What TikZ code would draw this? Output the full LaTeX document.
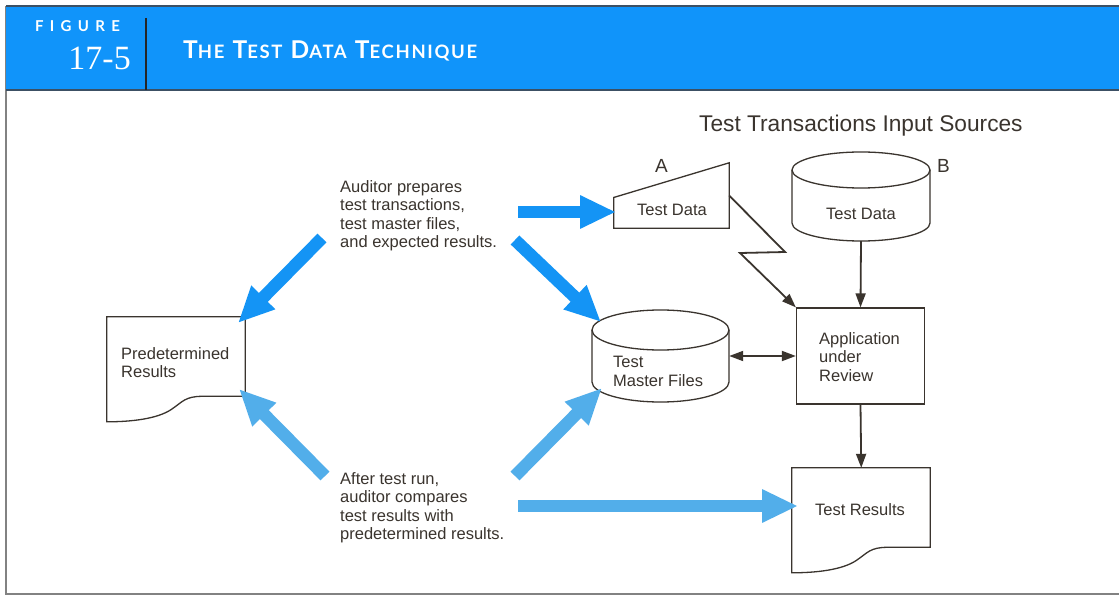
\documentclass[tikz,border=0pt]{standalone}
\usepackage{fontspec}
\setmainfont{Liberation Sans}
\newfontfamily\hdfont[LetterSpace=9]{Lato}
\newfontfamily\figfont[LetterSpace=42]{Lato}
\newfontfamily\numfont{Liberation Serif}
\usetikzlibrary{arrows.meta,calc}
\definecolor{hdblue}{RGB}{16,148,250}
\definecolor{arrA}{RGB}{20,148,245}
\definecolor{arrB}{RGB}{82,174,234}
\definecolor{ink}{RGB}{58,52,46}
\definecolor{hdline}{RGB}{60,80,100}
\definecolor{frameg}{RGB}{130,130,130}
\tikzset{
  lbl/.style={font=\fontsize{16.5}{18.5}\selectfont, text=ink, inner sep=0pt, align=left},
  ttl/.style={font=\fontsize{22.7}{24}\selectfont, text=ink, inner sep=0pt},
  outline/.style={draw=ink, line width=1.3pt, fill=white},
  shapebox/.style={inner sep=0pt, draw=none},
  conn/.style={draw=ink, line width=1.8pt, -{Triangle[length=14pt,width=10pt]}},
  bigA/.style={draw=arrA, line width=12.5pt, -{Triangle[length=36pt,width=31pt]}},
  bigB/.style={draw=arrB, line width=12.5pt, -{Triangle[length=36pt,width=31pt]}},
  hdtxt/.style={text=white, inner sep=0pt},
  docpic/.pic={
    \draw[outline] (0,0) -- (138.5,0) -- (138.5,79.5) -- (96,79.5)
      .. controls (78,79.5) and (76,85) .. (64,93)
      .. controls (50,102) and (25,105) .. (0,105) -- cycle;
  }
}
\newcommand\hdBig[1]{{\fontsize{24.5}{24}\selectfont #1}}
\newcommand\hdSml[1]{{\fontsize{18.5}{18}\selectfont #1}}
\begin{document}
\begin{tikzpicture}[x=1pt,y=-1pt]
\useasboundingbox (0,0) rectangle (1119,596);
% frame and header
\fill[white] (0,0) rectangle (1119,596);
\draw[frameg, line width=1.2pt] (6,6) -- (6,594) -- (1119,594);
\fill[hdblue] (6,6) rectangle (1119,90);
\draw[hdline, line width=1.5pt] (6,6) -- (1119,6);
\draw[hdline, line width=1.5pt] (6,90) -- (1119,90);
\draw[black!85, line width=1.4pt] (146,18) -- (146,90);
\node[hdtxt, anchor=base west, font=\figfont\bfseries\fontsize{15}{15}\selectfont] (figword) at (35,32) {FIGURE};
\node[hdtxt, anchor=base east, font=\numfont\fontsize{34}{34}\selectfont] (fignum) at (131,70) {17-5};
\node[hdtxt, anchor=base west, font=\hdfont\bfseries] (figtitle) at (183,59)
  {\hdBig{T}\hdSml{HE}\hdBig{ }\hdBig{T}\hdSml{EST}\hdBig{ }\hdBig{D}\hdSml{ATA}\hdBig{ }\hdBig{T}\hdSml{ECHNIQUE}};

% title of sources
\node[ttl, anchor=base west] (srctitle) at (699,132) {Test Transactions Input Sources};
\node[ttl, anchor=base west, font=\fontsize{19}{20}\selectfont] (labA) at (655,173) {A};
\node[ttl, anchor=base west, font=\fontsize{19}{20}\selectfont] (labB) at (937,173) {B};

% shape boxes
\node[shapebox, minimum width=115pt, minimum height=65pt] (trapA) at (671.5,195.5) {};
\node[shapebox, minimum width=138pt, minimum height=89pt] (cylB) at (861,196.5) {};
\node[draw=ink, line width=1.3pt, fill=white, minimum width=128pt, minimum height=96pt, inner sep=0pt] (app) at (860.5,356) {};
\node[shapebox, minimum width=137pt, minimum height=92pt] (tmf) at (660.5,356) {};
\node[shapebox, minimum width=138.5pt, minimum height=105pt] (pred) at (176.25,369.5) {};
\node[shapebox, minimum width=138.5pt, minimum height=105pt] (tres) at (861.25,520.5) {};

% trapezoid A
\draw[outline] (trapA.south west) -- (trapA.south east) -- (trapA.north east)
  -- ($(trapA.south west)!0.47!(trapA.north west)$) -- cycle;
% cylinder B
\draw[outline] (792,170) -- (792,223) arc[start angle=180, end angle=360, x radius=69pt, y radius=18pt] -- (930,170);
\draw[outline] (861,170) ellipse[x radius=69pt, y radius=18pt];
% cylinder test master files
\draw[outline] (592,330) -- (592,382) arc[start angle=180, end angle=360, x radius=68.5pt, y radius=20pt] -- (729,330);
\draw[outline] (660.5,330) ellipse[x radius=68.5pt, y radius=20pt];
% documents
\pic at (pred.north west) {docpic};
\pic at (tres.north west) {docpic};

% texts
\node[lbl, anchor=base] (tdA) at (672,215) {Test Data};
\node[lbl, anchor=base] (tdB) at (861,219) {Test Data};
\node[lbl, anchor=north west] (apptxt) at (819,332) {Application\\under\\Review};
\node[lbl, anchor=north west] (tmftxt) at (613,356) {Test\\Master Files};
\node[lbl, anchor=north west] (predtxt) at (121,347) {Predetermined\\Results};
\node[lbl, anchor=base] (trestxt) at (860,515) {Test Results};
\node[lbl, anchor=north west] (prep) at (340,180) {Auditor prepares\\test transactions,\\test master files,\\and expected results.};
\node[lbl, anchor=north west] (after) at (340,472) {After test run,\\auditor compares\\test results with\\predetermined results.};

% black connectors
\coordinate (z1) at (785,252);
\coordinate (z2) at (740,253);
\draw[conn] (trapA.east) -- (z1) -- (z2) -- (app.north west);
\draw[conn] (cylB.south) -- (app.north);
\draw[conn] (app.south) -- (tres.north);
\draw[draw=ink, line width=1.8pt, {Triangle[length=14pt,width=10pt]}-{Triangle[length=14pt,width=10pt]}] (tmf.east) -- (app.west);

% big blue arrows
\coordinate (s1) at (518,212);
\coordinate (t1) at (616,212);
\coordinate (s2) at (322,238);
\coordinate (t2) at (238,323);
\coordinate (s3) at (515,240);
\coordinate (t3) at (601,322);
\coordinate (s4) at (325,476);
\coordinate (t4) at (239,389);
\coordinate (s5) at (515,476);
\coordinate (t5) at (602,388);
\coordinate (s6) at (518,506);
\coordinate (t6) at (798,506);
\draw[bigA] (s1) -- (t1);
\draw[bigA] (s2) -- (t2);
\draw[bigA] (s3) -- (t3);
\draw[bigB] (s4) -- (t4);
\draw[bigB] (s5) -- (t5);
\draw[bigB] (s6) -- (t6);
\end{tikzpicture}
\end{document}
